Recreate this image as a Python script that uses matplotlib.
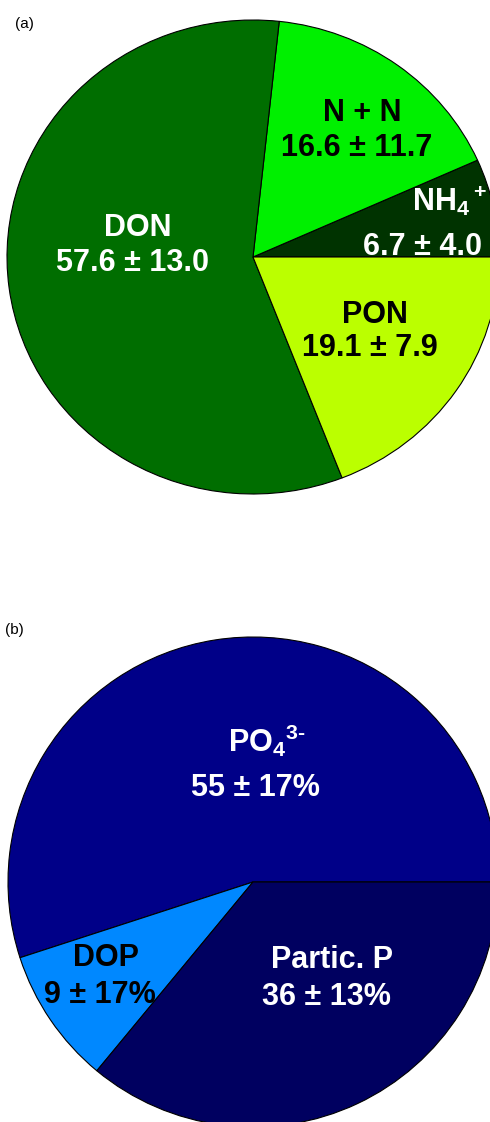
import matplotlib
matplotlib.use("Agg")
import matplotlib.pyplot as plt

plt.rcParams["font.family"] = ["Liberation Sans", "DejaVu Sans"]
plt.rcParams["mathtext.fontset"] = "custom"
plt.rcParams["mathtext.rm"] = "Liberation Sans:bold"
plt.rcParams["mathtext.it"] = "Liberation Sans:bold"
plt.rcParams["mathtext.bf"] = "Liberation Sans:bold"
plt.rcParams["mathtext.sf"] = "Liberation Sans:bold"

# (a) nitrogen pools, % of total N (wedges counter-clockwise from 3 o'clock)
n_names = ["NH$_4{}^+$", "N + N", "DON", "PON"]
n_mean = [6.7, 16.6, 57.6, 19.1]
n_sd = [4.0, 11.7, 13.0, 7.9]
n_colors = ["#003300", "#00F000", "#006E00", "#BBFF00"]

# (b) phosphorus pools, % of total P
p_names = ["PO$_4{}^{\\text{3-}}$", "DOP", "Partic. P"]
p_mean = [55, 9, 36]
p_sd = [17, 17, 13]
p_colors = ["#000088", "#0088FF", "#000060"]

W, H = 490, 1122
fig = plt.figure(figsize=(W / 100, H / 100), dpi=100)


def pie_axes(cx, cy, rx, ry):
    ax = fig.add_axes([(cx - rx) / W, (H - (cy + ry)) / H, 2 * rx / W, 2 * ry / H])
    return ax


def draw_pie(ax, values, colors):
    wedges, _ = ax.pie(values, colors=colors, startangle=0, counterclock=True,
                       radius=1.0,
                       wedgeprops=dict(edgecolor="black", linewidth=0.8))
    for w in wedges:
        w.set_clip_on(False)
    ax.set_aspect("auto")
    ax.set_xlim(-1, 1)
    ax.set_ylim(-1, 1)
    ax.axis("off")
    return wedges


def label(x, y, s, color, ha="center", va="center", size=22, clip=None):
    t = fig.text(x / W, 1 - y / H, s, color=color, ha=ha, va=va,
                 fontsize=size, fontweight="bold")
    if clip is not None:
        t.set_clip_path(clip)
    return t


# ---- panel (a)
ax_a = pie_axes(253, 257, 246, 237)
wa = draw_pie(ax_a, n_mean, n_colors)
n_vals = [f"{m:.1f} \u00b1 {s:.1f}" for m, s in zip(n_mean, n_sd)]

label(138, 228, n_names[2], "white")
label(133, 263, n_vals[2], "white")
label(362, 113, n_names[1], "black")
label(357, 148, n_vals[1], "black")
label(412, 211, n_names[0], "white", ha="left", va="baseline")
label(422, 247, n_vals[0], "white", clip=wa[0])
label(375, 315, n_names[3], "black")
label(370, 348, n_vals[3], "black")

fig.text(15 / W, 1 - 24 / H, "(a)", fontsize=11, ha="left", va="center")

# ---- panel (b)
ax_b = pie_axes(253, 882, 245, 245)
wb = draw_pie(ax_b, p_mean, p_colors)
p_vals = [f"{m:.0f} \u00b1 {s:.0f}%" for m, s in zip(p_mean, p_sd)]

label(228, 752, p_names[0], "white", ha="left", va="baseline")
label(255, 788, p_vals[0], "white")
label(106, 958, p_names[1], "black")
label(100, 995, p_vals[1], "black")
label(332, 960, p_names[2], "white")
label(326, 997, p_vals[2], "white")

fig.text(5 / W, 1 - 630 / H, "(b)", fontsize=11, ha="left", va="center")

fig.savefig("out.png", dpi=100, facecolor="white")
